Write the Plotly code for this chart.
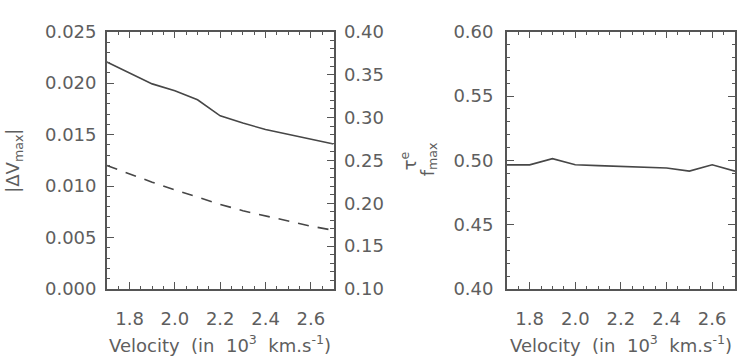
import plotly.graph_objects as go

# Data
velocity = [1.7, 1.8, 1.9, 2.0, 2.1, 2.2, 2.3, 2.4, 2.5, 2.6, 2.7]
dv_solid = [0.02205, 0.02098, 0.01993, 0.01927, 0.01839, 0.01683, 0.01612, 0.01550, 0.01503, 0.01455, 0.01409]
dv_dashed = [0.01200, 0.01118, 0.01037, 0.00963, 0.00892, 0.00822, 0.00760, 0.00710, 0.00657, 0.00610, 0.00570]
f_max = [0.4965, 0.4965, 0.5013, 0.4965, 0.4959, 0.4953, 0.4947, 0.4940, 0.4916, 0.4965, 0.4916]

x_ticks = [1.8, 2.0, 2.2, 2.4, 2.6]
x_title = "Velocity  (in  10<sup>3</sup>  km.s<sup>-1</sup>)"

W, H = 737, 363
INK = "#5e5e5e"
AX = "#555555"
LINE = "#474747"
FONT = dict(family="DejaVu Sans", size=18, color=INK)

def px(x):
    return x / W

def py(y):
    return 1 - y / H

fig = go.Figure()
fig.add_trace(go.Scatter(x=velocity, y=dv_solid, mode="lines",
                         line=dict(color=LINE, width=1.6), xaxis="x", yaxis="y",
                         showlegend=False))
fig.add_trace(go.Scatter(x=velocity, y=dv_dashed, mode="lines",
                         line=dict(color=LINE, width=1.6, dash="11px,9px"), xaxis="x", yaxis="y",
                         showlegend=False))
fig.add_trace(go.Scatter(x=velocity, y=f_max, mode="lines",
                         line=dict(color=LINE, width=1.6), xaxis="x3", yaxis="y3",
                         showlegend=False))

ydom = [py(295), py(22)]
common_x = dict(range=[1.7, 2.7], tickvals=x_ticks, ticktext=[f"{v:.1f}" for v in x_ticks],
                ticks="inside", ticklen=7, tickcolor=AX, tickwidth=1.2,
                minor=dict(ticks="inside", ticklen=3.5, dtick=0.05, tick0=1.7, tickcolor=AX, tickwidth=1.2),
                showline=True, linecolor=AX, linewidth=1.5, mirror="ticks",
                showgrid=False, zeroline=False, tickfont=FONT, ticklabelstandoff=13)

fig.update_layout(
    width=W, height=H, margin=dict(l=0, r=0, t=0, b=0),
    paper_bgcolor="white", plot_bgcolor="white",
    xaxis=dict(domain=[px(107), px(334)], anchor="y", **common_x),
    yaxis=dict(domain=ydom, anchor="x", range=[0, 0.025], dtick=0.005, tick0=0, tickformat=".3f",
               ticks="inside", ticklen=7, tickcolor=AX, tickwidth=1.2,
               minor=dict(ticks="inside", ticklen=3.5, dtick=0.001, tickcolor=AX, tickwidth=1.2),
               showline=True, linecolor=AX, linewidth=1.5, mirror=False,
               showgrid=False, zeroline=False, tickfont=FONT, ticklabelstandoff=5),
    yaxis2=dict(overlaying="y", anchor="x", side="right", range=[0.1, 0.4], dtick=0.05, tick0=0.1,
                tickformat=".2f", ticks="inside", ticklen=7, tickcolor=AX, tickwidth=1.2,
                minor=dict(ticks="inside", ticklen=3.5, dtick=0.01, tickcolor=AX, tickwidth=1.2),
                showline=True, linecolor=AX, linewidth=1.5,
                showgrid=False, zeroline=False, tickfont=FONT, ticklabelstandoff=5),
    xaxis3=dict(domain=[px(507.5), px(736)], anchor="y3", **common_x),
    yaxis3=dict(domain=ydom, anchor="x3", range=[0.4, 0.6], dtick=0.05, tick0=0.4, tickformat=".2f",
                ticks="inside", ticklen=7, tickcolor=AX, tickwidth=1.2,
                minor=dict(ticks="inside", ticklen=3.5, dtick=0.01, tickcolor=AX, tickwidth=1.2),
                showline=True, linecolor=AX, linewidth=1.5, mirror="ticks",
                showgrid=False, zeroline=False, tickfont=FONT, ticklabelstandoff=8),
)

# an invisible trace to activate yaxis2
fig.add_trace(go.Scatter(x=[velocity[0]], y=[0.1], mode="markers", marker=dict(opacity=0),
                         xaxis="x", yaxis="y2", showlegend=False, hoverinfo="skip"))

ann = [
    dict(x=px(220.5), y=py(353), text=x_title),
    dict(x=px(621.5), y=py(353), text=x_title),
    dict(x=px(14), y=py(159), text="|ΔV<sub>max</sub>|", textangle=-90),
    dict(x=px(429), y=py(157), text="f<sub>max</sub>", textangle=-90),
    dict(x=px(409), y=py(159), text="τ<sup>e</sup>", textangle=-90),
]
for a in ann:
    fig.add_annotation(xref="paper", yref="paper", showarrow=False,
                       xanchor="center", yanchor="middle", font=FONT, **a)

fig.write_html("out.html")
